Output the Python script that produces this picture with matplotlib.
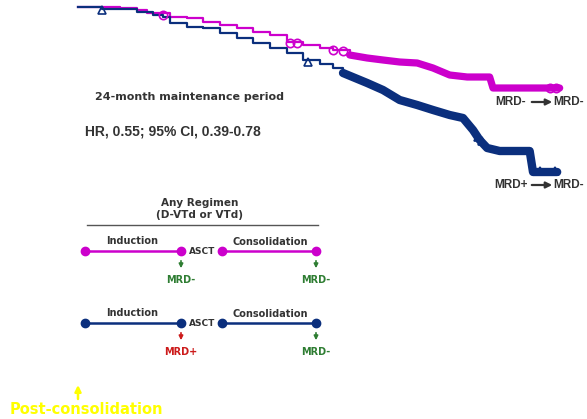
import numpy as np
import matplotlib
matplotlib.use("Agg")
import matplotlib.pyplot as plt

# Kaplan-Meier style curves (months, % event free)
neg_t = [0, 5.0, 7.1, 8.3, 11.0, 13.1, 15.0, 17.0, 19.1, 21.0, 23.0, 25.1, 27.0, 29.0, 30.6, 32.6,
         34.7, 36.6, 38.6, 40.7, 42.6, 44.6, 46.7, 49.4, 49.8, 57.8]
neg_s = [100, 99.75, 99.25, 98.5, 97.5, 97.25, 96.25, 95.5, 94.75, 93.75, 93, 91.25, 90.5, 89.75, 89.25, 88,
         87.25, 86.75, 86.25, 86, 84.75, 83, 82.5, 82.5, 79.75, 79.75]
pos_t = [0, 2.9, 5.0, 7.1, 9.0, 10.2, 11.0, 13.1, 15.0, 17.0, 19.1, 21.0, 23.0, 25.1, 27.0, 29.0, 30.6,
         31.8, 34.7, 36.6, 38.6, 40.7, 42.6, 44.6, 46.2, 47.4, 48.2, 49.1, 50.6, 54.2, 54.6, 57.5]
pos_s = [100, 99.5, 99.5, 98.75, 98, 97.5, 96, 95, 94.75, 93.5, 92.25, 91, 89.75, 88.5, 86.75, 85.75, 84.75,
         83.5, 81, 79.25, 76.75, 75.5, 74.25, 73, 72.25, 69.25, 66.75, 64.75, 64, 64, 58.75, 58.75]

# censor marks that stand out on their own
neg_cens_t = [10.2, 25.4, 26.3, 30.6, 31.8, 56.6, 57.4]
neg_cens_s = [98, 91, 91, 89.25, 89, 79.75, 79.75]
pos_cens_t = [2.9, 27.6, 48.0, 48.5, 55.4, 57.2]
pos_cens_s = [99.25, 86.25, 67.5, 66.5, 59, 59]

# where the censor marks pile up into a thick band
neg_band = 32.6
pos_band = 31.8

magenta = "#cc00cc"
navy = "#0b2f7d"
green = "#2e7d32"
red = "#cc1a1a"
grey = "#333333"

W, H = 587, 419
fig = plt.figure(figsize=(W / 100, H / 100), dpi=100)

ax = fig.add_axes([78 / W, 1 - 407 / H, 500 / W, 400 / H])
ax.set_xlim(0, 60)
ax.set_ylim(0, 100)
ax.axis("off")

for t, s, c, band, bw in [(neg_t, neg_s, magenta, neg_band, 5.2), (pos_t, pos_s, navy, pos_band, 6.0)]:
    t = np.array(t)
    s = np.array(s)
    m = t <= band
    ax.plot(t[m], s[m], drawstyle="steps-post", color=c, lw=1.6, clip_on=False)
    m = t >= band
    ax.plot(t[m], s[m], color=c, lw=bw, clip_on=False,
            solid_joinstyle="round", solid_capstyle="round")

ax.plot(neg_cens_t, neg_cens_s, "o", mfc="none", mec=magenta, ms=6, mew=1.2, clip_on=False)
ax.plot(pos_cens_t, pos_cens_s, "^", mfc="none", mec=navy, ms=6, mew=1.2, clip_on=False)

# overlay in pixel units for text and the schematic
ov = fig.add_axes([0, 0, 1, 1])
ov.set_xlim(0, W)
ov.set_ylim(H, 0)
ov.axis("off")

ov.text(95, 97, "24-month maintenance period", fontsize=8, fontweight="bold", color=grey, va="center")
ov.text(85, 131, "HR, 0.55; 95% CI, 0.39-0.78", fontsize=10, fontweight="bold", color=grey, va="center",
        family="Liberation Sans")

for y, lab in [(102, "MRD-"), (185, "MRD+")]:
    ov.text(511, y, lab, fontsize=8.5, fontweight="bold", color=grey, ha="center", va="center", family="Liberation Sans")
    ov.text(569, y, "MRD-", fontsize=8.5, fontweight="bold", color=grey, ha="center", va="center", family="Liberation Sans")
    ov.annotate("", xy=(555, y), xytext=(529, y),
                arrowprops=dict(arrowstyle="-|>", color=grey, lw=1.6, mutation_scale=9))

ov.text(200, 203, "Any Regimen", fontsize=7.5, fontweight="bold", color=grey, ha="center", va="center")
ov.text(200, 215, "(D-VTd or VTd)", fontsize=7.5, fontweight="bold", color=grey, ha="center", va="center")
ov.plot([87, 318], [225, 225], color="#555555", lw=1)

nodes = [85, 181, 222, 316]
for y, c, first, first_c in [(251, magenta, "MRD-", green), (323, navy, "MRD+", red)]:
    ov.plot(nodes[:2], [y, y], color=c, lw=1.8)
    ov.plot(nodes[2:], [y, y], color=c, lw=1.8)
    ov.plot(nodes, [y] * 4, "o", color=c, ms=6)
    ov.text(132, y - 10, "Induction", fontsize=7, fontweight="bold", color=grey, ha="center", va="center")
    ov.text(270, y - 9, "Consolidation", fontsize=7, fontweight="bold", color=grey, ha="center", va="center")
    ov.text(202, y, "ASCT", fontsize=6.5, fontweight="bold", color=grey, ha="center", va="center")
    for x, lab in [(181, first), (316, "MRD-")]:
        lc = first_c if x == 181 else green
        ov.annotate("", xy=(x, y + 20), xytext=(x, y + 7),
                    arrowprops=dict(arrowstyle="-|>", color=lc, lw=1.2, mutation_scale=6))
        ov.text(x, y + 29, lab, fontsize=7, fontweight="bold", color=lc, ha="center", va="center")

ov.annotate("", xy=(78, 385), xytext=(78, 399),
            arrowprops=dict(arrowstyle="-|>", color="#ffff00", lw=1.8, mutation_scale=9, shrinkA=0, shrinkB=0))
ov.text(10, 409, "Post-consolidation", fontsize=10.5, fontweight="bold", color="#ffff00", va="center")

fig.savefig("out.png", dpi=100)
